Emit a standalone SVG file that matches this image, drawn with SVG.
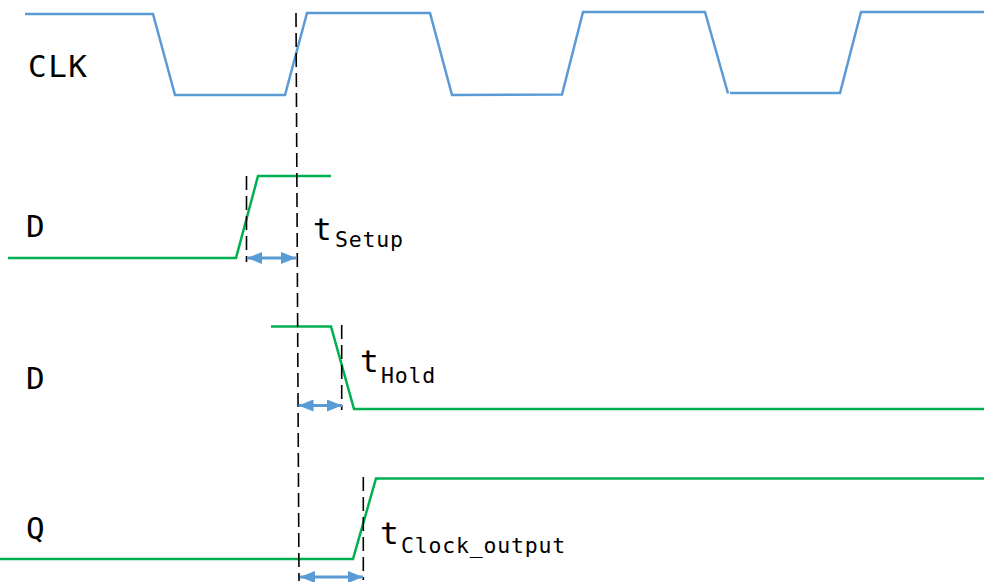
<svg xmlns="http://www.w3.org/2000/svg" width="984" height="582" viewBox="0 0 984 582">
<style>
.clk{fill:none;stroke:#5B9BD5;stroke-width:2.5;stroke-linejoin:miter}
.sig{fill:none;stroke:#00B050;stroke-width:2.5}
.dash{fill:none;stroke:#000;stroke-width:1.6;stroke-dasharray:14 6}
.arr{fill:none;stroke:#5B9BD5;stroke-width:3;marker-start:url(#ah);marker-end:url(#ah)}
.lbl{font-family:"DejaVu Sans Mono","Liberation Mono",monospace;font-size:31px;fill:#000;letter-spacing:1.5px}
.t{font-family:"DejaVu Sans Mono","Liberation Mono",monospace;font-size:31px;fill:#000}
.sub{font-size:21.5px;letter-spacing:0.8px}
</style>
<defs>
<marker id="ah" markerUnits="userSpaceOnUse" markerWidth="15" markerHeight="12" refX="15" refY="6" orient="auto-start-reverse">
<path d="M0,0 L15,6 L0,12 z" fill="#5B9BD5"/>
</marker>
</defs>
<g id="clk">
<path class="clk" d="M25,14 L153,14 L175,95 L285,95 L307,13 L430,13 L452,95 L562,94.5 L583,12 L705,12 L728,93.5 M730,93 L840,93 L861,12 L984,12"/>
<text class="lbl" x="28" y="77">CLK</text>
</g>
<g id="d-setup">
<path class="sig" d="M8,258 L236,258 L258,176 L331,176"/>
<text class="lbl" x="26" y="237">D</text>
</g>
<g id="d-hold">
<path class="sig" d="M271,326.5 L331,326.5 L354,409 L984,409"/>
<text class="lbl" x="26" y="389">D</text>
</g>
<g id="q">
<path class="sig" d="M0,559 L353,559 L376,478.5 L984,478.5"/>
<text class="lbl" x="26" y="539">Q</text>
</g>
<g id="connectors">
<line class="dash" x1="296" y1="13" x2="299" y2="581"/>
<line class="dash" x1="246.5" y1="176" x2="246.5" y2="262"/>
<line class="dash" x1="341.7" y1="325" x2="341.7" y2="410"/>
<line class="dash" x1="363.3" y1="477" x2="363.3" y2="580"/>
<line class="arr" x1="247" y1="258" x2="296" y2="258"/>
<line class="arr" x1="298.5" y1="405.5" x2="342" y2="405.5"/>
<line class="arr" x1="300" y1="577" x2="363" y2="577"/>
</g>
<g id="labels">
<text class="t" x="313" y="239.5">t<tspan class="sub" x="335" y="247">Setup</tspan></text>
<text class="t" x="360" y="372">t<tspan class="sub" x="381" y="383">Hold</tspan></text>
<text class="t" x="380" y="543.5">t<tspan class="sub" x="401" y="553">Clock_output</tspan></text>
</g>
</svg>
